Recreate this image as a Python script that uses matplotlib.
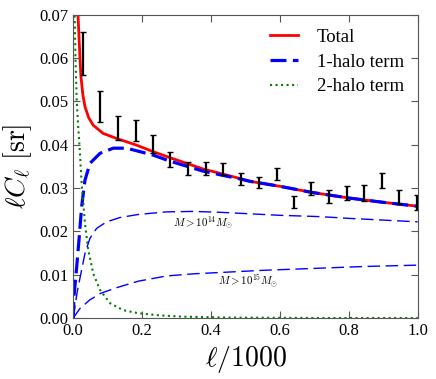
import numpy as np
import matplotlib
matplotlib.use("Agg")
import matplotlib.pyplot as plt

plt.rcParams['font.family'] = ['Liberation Serif', 'DejaVu Serif']
plt.rcParams['mathtext.fontset'] = 'cm'

# total signal
x_tot = [0.010, 0.0145, 0.0195, 0.0224, 0.028, 0.034, 0.045, 0.058, 0.087, 0.131,
         0.184, 0.232, 0.281, 0.377, 0.484, 0.513, 0.60, 0.692, 0.80, 0.90, 1.0]
y_tot = [0.076, 0.0688, 0.060, 0.0557, 0.0515, 0.0488, 0.0462, 0.0445, 0.0426, 0.0413,
         0.0399, 0.0384, 0.0370, 0.0344, 0.0322, 0.03155, 0.0304, 0.0290, 0.0277, 0.0267, 0.0258]

# 1-halo term
x_1h = [0.0, 0.002, 0.010, 0.0175, 0.0244, 0.034, 0.0485, 0.0775, 0.116, 0.155,
        0.189, 0.232, 0.281, 0.377, 0.484, 0.513, 0.60, 0.692, 0.80, 0.90, 1.0]
y_1h = [0.0, 0.0049, 0.0118, 0.0188, 0.0257, 0.0318, 0.0357, 0.0380, 0.0392, 0.0392,
        0.0385, 0.0376, 0.0362, 0.0339, 0.0321, 0.03155, 0.0304, 0.0290, 0.0277, 0.0267, 0.0258]

# 2-halo term
x_2h = [0.003, 0.004, 0.0065, 0.010, 0.0145, 0.0195, 0.0244, 0.034, 0.0436, 0.058,
        0.0775, 0.107, 0.145, 0.189, 0.25, 0.32, 0.45, 0.7, 1.0]
y_2h = [0.080, 0.070, 0.060, 0.0503, 0.0440, 0.0380, 0.0311, 0.0219, 0.0157, 0.0103,
        0.0065, 0.0034, 0.0018, 0.0011, 0.0006, 0.0003, 0.0001, 0.0, 0.0]

# 1-halo, M > 1e14 Msun
x_m14 = [0.0, 0.0116, 0.034, 0.0485, 0.068, 0.097, 0.136, 0.189, 0.271, 0.35,
         0.426, 0.5, 0.6, 0.716, 0.8, 0.9, 1.0]
y_m14 = [0.0, 0.0061, 0.0149, 0.0184, 0.0207, 0.0222, 0.0232, 0.0239, 0.0245, 0.0246,
         0.0244, 0.0241, 0.0237, 0.0234, 0.0230, 0.0226, 0.0222]

# 1-halo, M > 1e15 Msun
x_m15 = [0.0, 0.0195, 0.0485, 0.08, 0.126, 0.189, 0.271, 0.35, 0.426, 0.55,
         0.716, 0.85, 1.0]
y_m15 = [0.0, 0.0022, 0.0042, 0.0057, 0.0070, 0.0085, 0.0097, 0.0102, 0.0105, 0.0110,
         0.0115, 0.0119, 0.0122]

# measured points with errors
x_dat = [0.0273, 0.0784, 0.1307, 0.1812, 0.2314, 0.2817, 0.333, 0.3844, 0.4355, 0.486,
         0.539, 0.5906, 0.640, 0.691, 0.743, 0.794, 0.844, 0.8955, 0.9466, 0.997]
y_dat = [0.0611, 0.0488, 0.0439, 0.0433, 0.0402, 0.0366, 0.0345, 0.0346, 0.0344, 0.0321,
         0.0313, 0.0333, 0.0267, 0.0299, 0.0281, 0.0288, 0.0288, 0.0318, 0.0279, 0.0267]
e_dat = [0.0050, 0.0036, 0.0028, 0.0024, 0.0020, 0.0017, 0.0015, 0.0015, 0.0014, 0.0014,
         0.0013, 0.0014, 0.0014, 0.0015, 0.0015, 0.0016, 0.0018, 0.0017, 0.0016, 0.0018]

fig = plt.figure(figsize=(4.36, 3.79), dpi=100)
ax = fig.add_axes([0.168, 0.161, 0.79, 0.8])

ax.plot(x_tot, y_tot, c='r', lw=2, label='Total')
ax.plot(x_1h, y_1h, c='b', lw=2.3, ls=(0, (5, 2)), label='1-halo term')
ax.plot(x_2h, y_2h, c='g', lw=1.5, ls=':', label='2-halo term')
ax.plot(x_m14, y_m14, c='b', lw=1, ls=(0, (9, 4)))
ax.plot(x_m15, y_m15, c='b', lw=1, ls=(0, (9, 4)))
ax.errorbar(x_dat, y_dat, yerr=e_dat, fmt='none', ecolor='k', elinewidth=1.6,
            capsize=2.2, capthick=1)

ax.text(0.29, 0.0221, r'$M>10^{14}M_{\odot}$', fontsize=7.8, ha='left', va='center')
ax.text(0.421, 0.0084, r'$M>10^{15}M_{\odot}$', fontsize=7.8, ha='left', va='center')

ax.set_xlim(0, 1)
ax.set_ylim(0, 0.07)
ax.set_xticks(np.arange(0, 1.01, 0.2))
ax.set_yticks(np.arange(0, 0.071, 0.01))
ax.set_xticklabels(['0.0', '0.2', '0.4', '0.6', '0.8', '1.0'])
ax.set_yticklabels(['0.00', '0.01', '0.02', '0.03', '0.04', '0.05', '0.06', '0.07'])
ax.tick_params(direction='in', top=True, right=True, length=5, color='#555555',
               labelsize=12)
for s in ax.spines.values():
    s.set_color('#555555')

ax.set_xlabel(r'$\ell/1000$', fontsize=20)
ax.set_ylabel(r'$\ell C_\ell\ [\mathrm{sr}]$', fontsize=20)
ax.legend(loc='upper right', frameon=False, fontsize=13.5, handlelength=1.5,
          handletextpad=1.0, labelspacing=0.4, borderaxespad=0.35)

plt.savefig('out.png', dpi=100)
